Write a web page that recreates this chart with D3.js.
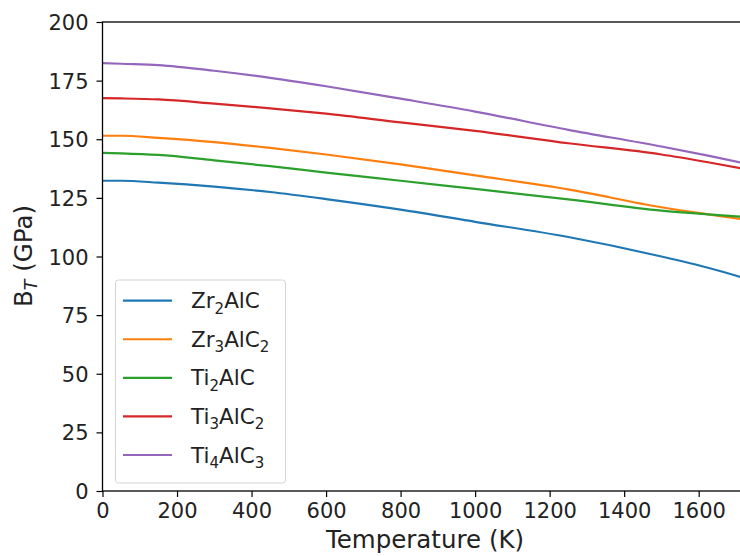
<!DOCTYPE html>
<html>
<head>
<meta charset="utf-8">
<script src="https://cdn.jsdelivr.net/npm/d3@7"></script>
<style>
  body { margin: 0; background: #fff; }
  svg { font-family: "DejaVu Sans", sans-serif; }
</style>
</head>
<body>
<div id="chart"></div>
<script>
// temperatures (K)
var temps = [0, 50, 150, 300, 450, 600, 800, 1000, 1250, 1500, 1625, 1750];

var zr2alc  = [132.3, 132.3, 131.5, 129.8, 127.5, 124.5, 120.0, 114.8, 108.3, 100.0, 95.2, 89.5];
var zr3alc2 = [151.5, 151.5, 150.6, 148.8, 146.3, 143.5, 139.3, 134.6, 128.6, 121.0, 118.0, 115.2];
var ti2alc  = [144.2, 144.0, 143.3, 141.0, 138.5, 135.8, 132.3, 128.8, 124.4, 119.6, 118.0, 116.6];
var ti3alc2 = [167.5, 167.4, 167.0, 165.2, 163.2, 160.9, 157.2, 153.6, 148.3, 143.5, 140.2, 136.6];
var ti4alc3 = [182.5, 182.2, 181.6, 179.2, 176.2, 172.6, 167.3, 161.8, 154.0, 146.9, 143.0, 138.8];

var seriesNames = ["Zr_2AlC", "Zr_3AlC_2", "Ti_2AlC", "Ti_3AlC_2", "Ti_4AlC_3"];
var seriesVals  = [zr2alc, zr3alc2, ti2alc, ti3alc2, ti4alc3];
var colors = ["#1f77b4", "#ff7f0e", "#2ca02c", "#d62728", "#9467bd"];

var xTicks = [0, 200, 400, 600, 800, 1000, 1200, 1400, 1600];
var yTicks = [0, 25, 50, 75, 100, 125, 150, 175, 200];

(function() {

  var W = 740, H = 556;
  var pLeft = 102.5, pTop = 22, pRight = 746, pBottom = 491;

  var svg = d3.select("#chart").append("svg")
    .attr("width", W)
    .attr("height", H);

  var x = d3.scaleLinear().domain([0, 1727]).range([pLeft, pRight]);
  var y = d3.scaleLinear().domain([0, 200]).range([pBottom, pTop]);

  svg.append("clipPath").attr("id", "plotclip")
    .append("rect")
    .attr("x", pLeft).attr("y", pTop)
    .attr("width", pRight - pLeft).attr("height", pBottom - pTop);

  // lines
  var line = d3.line()
    .x(function(d, i) { return x(temps[i]); })
    .y(function(d) { return y(d); })
    .curve(d3.curveMonotoneX);

  svg.append("g").attr("clip-path", "url(#plotclip)")
    .selectAll("path")
    .data(seriesVals)
    .enter()
    .append("path")
      .attr("d", line)
      .attr("fill", "none")
      .attr("stroke", function(d, i) { return colors[i]; })
      .attr("stroke-width", 2.2);

  // axes
  var xAxis = svg.append("g")
    .attr("transform", "translate(0," + pBottom + ")")
    .call(d3.axisBottom(x).tickValues(xTicks).tickSize(6).tickSizeOuter(0).tickPadding(6).tickFormat(d3.format("d")));

  var yAxis = svg.append("g")
    .attr("transform", "translate(" + pLeft + ",0)")
    .call(d3.axisLeft(y).tickValues(yTicks).tickSize(6).tickSizeOuter(0).tickPadding(8).tickFormat(d3.format("d")));

  [xAxis, yAxis].forEach(function(a) {
    a.select(".domain").remove();
    a.selectAll("text")
      .attr("font-family", "DejaVu Sans, sans-serif")
      .attr("font-size", 21)
      .attr("fill", "#222");
    a.selectAll("line").attr("stroke", "#000").attr("stroke-width", 1.2);
  });
  yAxis.selectAll("text").attr("dy", "0.36em");

  // spines
  svg.append("rect")
    .attr("x", pLeft).attr("y", pTop)
    .attr("width", pRight - pLeft).attr("height", pBottom - pTop)
    .attr("fill", "none")
    .attr("stroke", "#000")
    .attr("stroke-width", 1.3);

  // axis labels
  svg.append("text")
    .attr("x", 425)
    .attr("y", 548)
    .attr("text-anchor", "middle")
    .attr("font-size", 24.5)
    .attr("fill", "#222")
    .text("Temperature (K)");

  var yl = svg.append("text")
    .attr("transform", "translate(32,256) rotate(-90)")
    .attr("text-anchor", "middle")
    .attr("font-size", 24.5)
    .attr("fill", "#222");
  yl.append("tspan").text("B");
  yl.append("tspan").attr("font-size", 17.5).attr("font-style", "italic").attr("dy", 5).text("T");
  yl.append("tspan").attr("dy", -5).text(" (GPa)");

  // text with subscripts, "_n" marks a subscript digit
  function subText(sel, label) {
    var parts = label.split(/(_\d)/);
    var shifted = false;
    parts.forEach(function(p) {
      if (!p) return;
      if (p[0] === "_") {
        sel.append("tspan").attr("font-size", 15).attr("dy", shifted ? 0 : 5.5).text(p.slice(1));
        shifted = true;
      } else {
        sel.append("tspan").attr("dy", shifted ? -5.5 : 0).text(p);
        shifted = false;
      }
    });
  }

  // legend
  var legend = svg.append("g");
  legend.append("rect")
    .attr("x", 115.5).attr("y", 280)
    .attr("width", 170).attr("height", 203)
    .attr("rx", 3)
    .attr("fill", "#fff")
    .attr("fill-opacity", 0.8)
    .attr("stroke", "#d5d5d5");

  var rowY = d3.scaleLinear().domain([0, 4]).range([300.7, 455]);

  var rows = legend.selectAll("g.row")
    .data(seriesNames)
    .enter()
    .append("g")
      .attr("class", "row")
      .attr("transform", function(d, i) { return "translate(0," + rowY(i) + ")"; });

  rows.append("line")
    .attr("x1", 123).attr("x2", 172)
    .attr("y1", 0).attr("y2", 0)
    .attr("stroke", function(d, i) { return colors[i]; })
    .attr("stroke-width", 2.2);

  rows.append("text")
    .attr("x", 191)
    .attr("y", 7.5)
    .attr("font-size", 21.5)
    .attr("fill", "#222")
    .each(function(d) { subText(d3.select(this), d); });

})();
</script>
</body>
</html>
